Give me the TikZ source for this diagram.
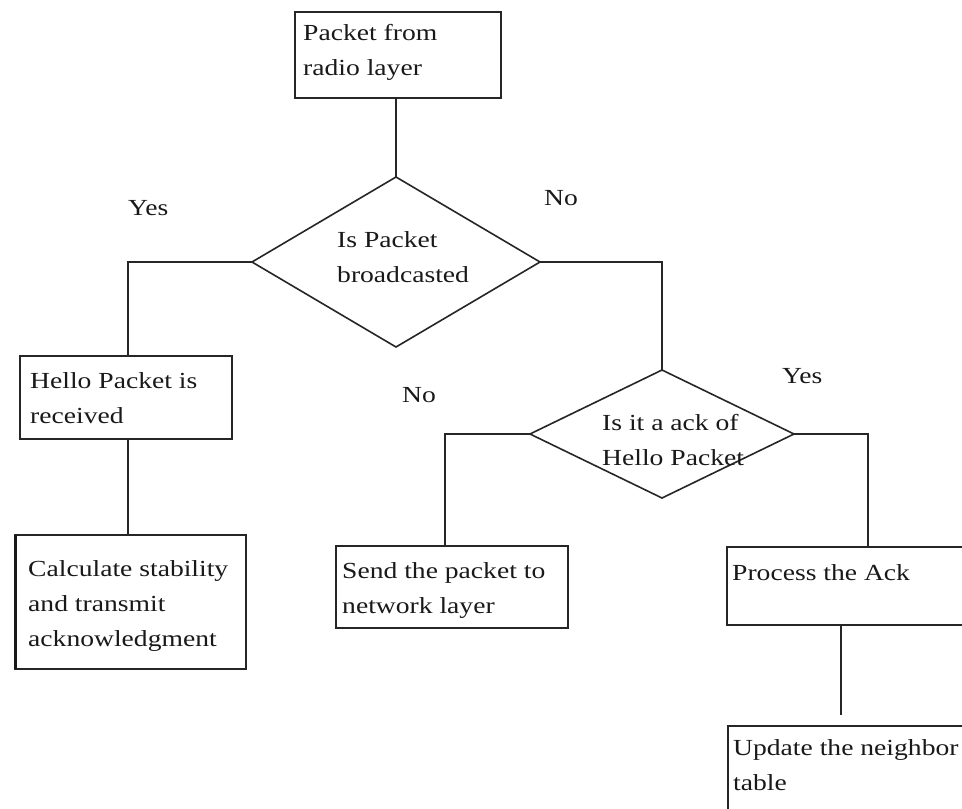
\documentclass[tikz,border=0pt]{standalone}
\usepackage{fontspec}
\setmainfont{Liberation Serif}[FakeStretch=1.2]
\usetikzlibrary{shapes.geometric}
\tikzset{
  ln/.style={draw=black!85, line width=1.6pt},
  boxnode/.style={ln, rectangle, inner sep=0pt, outer sep=0pt, anchor=north west},
  dia/.style={ln, diamond, inner sep=0pt, outer sep=0pt},
  txt/.style={anchor=north west, inner sep=0pt, align=left, font=\fontsize{23}{35}\selectfont, text=black!90},
  lbl/.style={anchor=base west, inner sep=0pt, font=\fontsize{23}{35}\selectfont, text=black!90}
}
\begin{document}
\begin{tikzpicture}[x=1pt, y=-1pt]
\useasboundingbox (0,0) rectangle (962,809);
\clip (0,0) rectangle (962,809);
\fill[white] (0,0) rectangle (962,809);
% boxes
\node[boxnode, minimum width=206pt, minimum height=86pt] (top) at (295,12) {};
\node[boxnode, minimum width=212pt, minimum height=83pt] (hello) at (20,356) {};
\node[boxnode, minimum width=231pt, minimum height=134pt] (calc) at (15,535) {};
\node[boxnode, minimum width=232pt, minimum height=82pt] (send) at (336,546) {};
\node[boxnode, minimum width=282pt, minimum height=78pt] (proc) at (727,547) {};
\node[boxnode, minimum width=272pt, minimum height=114pt] (upd) at (728,726) {};
\draw[black!90, line width=3pt] (calc.north west) -- (calc.south west);
% diamonds
\node[dia, minimum width=288pt, minimum height=170pt] (d1) at (396,262) {};
\node[dia, minimum width=264pt, minimum height=128pt] (d2) at (662,434) {};
% texts
\node[txt] (topt) at (303,24) {Packet from\\radio layer};
\node[txt] (hellot) at (30,372) {Hello Packet is\\received};
\node[txt] (calct) at (28,560) {Calculate stability\\and transmit\\acknowledgment};
\node[txt] (sendt) at (342,562) {Send the packet to\\network layer};
\node[txt] (proct) at (732,564) {Process the Ack};
\node[txt] (updt) at (733,739) {Update the neighbor\\table};
\node[txt] (d1t) at (337,231) {Is Packet\\broadcasted};
\node[txt] (d2t) at (602,414) {Is it a ack of\\Hello Packet};
% labels
\node[lbl] (yes1) at (128,215) {Yes};
\node[lbl] (no1) at (544,205) {No};
\node[lbl] (no2) at (402,402) {No};
\node[lbl] (yes2) at (782,383) {Yes};
% connectors
\coordinate (gapend) at (841,715);
\draw[ln] (d1.north |- top.south) -- (d1.north);
\draw[ln] (d1.west) -| ([xshift=2pt]hello.north);
\draw[ln] ([xshift=2pt]hello.south) -- ([xshift=2pt]hello.south |- calc.north);
\draw[ln] (d1.east) -| (d2.north);
\draw[ln] (d2.west) -| ([xshift=-7pt]send.north);
\draw[ln] (d2.east) -| (proc.north);
\draw[ln] (proc.south -| gapend) -- (gapend);
\end{tikzpicture}
\end{document}
